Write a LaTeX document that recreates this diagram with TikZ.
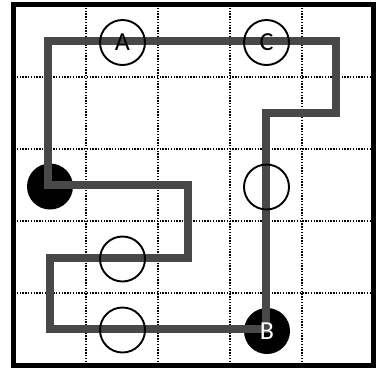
\documentclass[tikz,border=0pt]{standalone}
\usepackage{fontspec}
\setmainfont{Carlito}
\begin{document}
\begin{tikzpicture}[x=1pt,y=-1pt,
  gridline/.style={line width=1.5pt, dash pattern=on 1.4pt off 1.4pt},
  frame/.style={line width=5pt},
  pathline/.style={line width=7.5pt, draw={rgb,255:red,72;green,72;blue,72}},
  hollow/.style={circle, draw, line width=1.9pt, minimum size=45pt, inner sep=0pt, font=\fontsize{26}{26}\selectfont},
  solid/.style={circle, fill=black, minimum size=46pt, inner sep=0pt},
  whitelbl/.style={text=white, inner sep=0pt, font=\fontsize{26}{26}\selectfont}]
\useasboundingbox (0,0) rectangle (386,368);
% grid
\foreach \x in {86,158,230,302} \draw[gridline] (\x,5) -- (\x,365);
\foreach \y in {77,149,221,293} \draw[gridline] (14,\y) -- (374,\y);
\draw[frame] (13.5,4.5) rectangle (373.5,365.5);
% solid circles
\node[solid] (L) at (50,186.5) {};
\node[solid] (Bc) at (267,331) {};
% path corners
\coordinate (p1) at (266,329);
\coordinate (p2) at (266,113);
\coordinate (p3) at (336,113);
\coordinate (p4) at (336,41);
\coordinate (p5) at (48,41);
\coordinate (p6) at (48,185);
\coordinate (p7) at (188,185);
\coordinate (p8) at (188,258);
\coordinate (p9) at (50,258);
\coordinate (p10) at (50,329);
\draw[pathline] (p1) -- (p2) -- (p3) -- (p4) -- (p5) -- (p6) -- (p7) -- (p8) -- (p9) -- (p10) -- cycle;
% hollow circles
\node[hollow] (A) at (122.5,42.5) {A};
\node[hollow] (C) at (266.5,42.5) {C};
\node[hollow] (M) at (266.5,187) {};
\node[hollow] (D) at (122.5,259) {};
\node[hollow] (E) at (122.5,330) {};
\node[whitelbl] (B) at (Bc) {B};
\end{tikzpicture}
\end{document}
